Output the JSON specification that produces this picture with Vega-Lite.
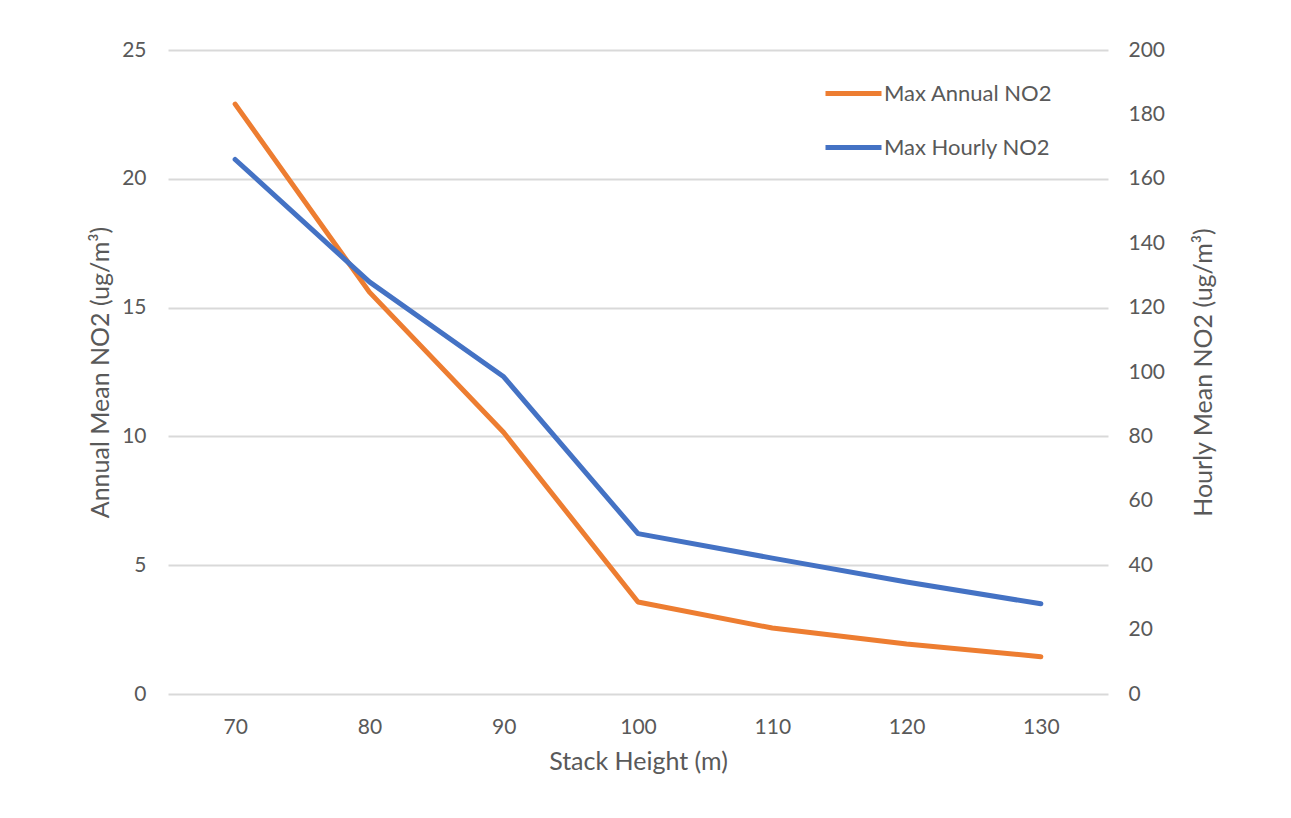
{
  "$schema": "https://vega.github.io/schema/vega-lite/v6.json",
  "width": 940,
  "height": 644,
  "autosize": {"type": "none"},
  "padding": {"left": 168, "top": 50, "right": 183, "bottom": 124},
  "background": "#ffffff",
  "config": {
    "font": "Lato",
    "view": {"stroke": null},
    "axis": {
      "labelFont": "Lato",
      "titleFont": "Lato",
      "labelFontSize": 21,
      "titleFontSize": 25,
      "labelColor": "#595959",
      "titleColor": "#595959",
      "titleFontWeight": "normal",
      "ticks": false,
      "domain": false
    }
  },
  "data": {
    "values": [
      {"height": 70, "annual": 22.9, "hourly": 166},
      {"height": 80, "annual": 15.6, "hourly": 128},
      {"height": 90, "annual": 10.15, "hourly": 98.5},
      {"height": 100, "annual": 3.57, "hourly": 49.8},
      {"height": 110, "annual": 2.56, "hourly": 42.2},
      {"height": 120, "annual": 1.94, "hourly": 34.8},
      {"height": 130, "annual": 1.45, "hourly": 28}
    ]
  },
  "encoding": {
    "x": {
      "field": "height",
      "type": "ordinal",
      "scale": {"type": "point", "padding": 0.5},
      "axis": {
        "title": "Stack Height (m)",
        "labelAngle": 0,
        "labelPadding": 22,
        "titlePadding": 12,
        "grid": false
      }
    }
  },
  "layer": [
    {
      "mark": {"type": "line", "strokeWidth": 5, "strokeCap": "round", "strokeJoin": "round"},
      "encoding": {
        "y": {
          "field": "annual",
          "type": "quantitative",
          "scale": {"domain": [0, 25], "nice": false},
          "axis": {
            "title": "Annual Mean NO2  (ug/m³)",
            "values": [0, 5, 10, 15, 20, 25],
            "grid": true,
            "gridColor": "#D9D9D9",
            "gridWidth": 2,
            "labelPadding": 22,
            "titlePadding": 8
          }
        },
        "color": {
          "datum": "Max Annual NO2",
          "type": "nominal",
          "scale": {
            "domain": ["Max Annual NO2", "Max Hourly NO2"],
            "range": ["#ED7D31", "#4472C4"]
          },
          "legend": {
            "title": null,
            "orient": "none",
            "legendX": 655,
            "legendY": 13,
            "symbolType": "stroke",
            "symbolSize": 3136,
            "symbolStrokeWidth": 5,
            "labelFont": "Lato",
            "labelFontSize": 22,
            "labelLimit": 400,
            "labelColor": "#595959",
            "labelOffset": 0,
            "rowPadding": 12
          }
        }
      }
    },
    {
      "mark": {"type": "line", "strokeWidth": 5, "strokeCap": "round", "strokeJoin": "round"},
      "encoding": {
        "y": {
          "field": "hourly",
          "type": "quantitative",
          "scale": {"domain": [0, 200], "nice": false},
          "axis": {
            "orient": "right",
            "title": "Hourly Mean NO2 (ug/m³)",
            "titleAngle": 270,
            "titleX": 95,
            "titleY": 322,
            "titleAlign": "center",
            "titleBaseline": "middle",
            "values": [0, 20, 40, 60, 80, 100, 120, 140, 160, 180, 200],
            "grid": false,
            "labelPadding": 20
          }
        },
        "color": {"datum": "Max Hourly NO2", "type": "nominal"}
      }
    }
  ],
  "resolve": {"scale": {"y": "independent"}}
}
